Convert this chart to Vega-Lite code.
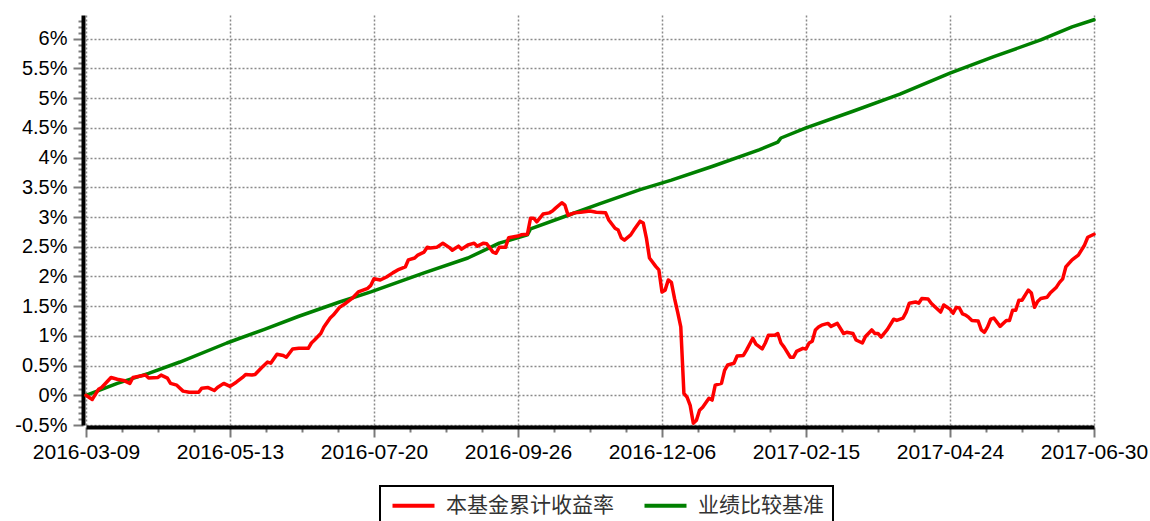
{
  "$schema": "https://vega.github.io/schema/vega-lite/v6.json",
  "width": 1008,
  "height": 410,
  "autosize": {"type": "none"},
  "padding": {"left": 86, "top": 15, "right": 56, "bottom": 96},
  "background": "white",
  "config": {
    "view": {"stroke": null},
    "axis": {"title": null, "labelFont": "Liberation Sans", "labelFontSize": 20, "labelColor": "black", "labelOverlap": false, "labelFlush": false},
    "legend": {"strokeWidth": 2}
  },
  "data": {"values": [
    {"i": 0, "s": "业绩比较基准", "v": 0.0},
    {"i": 10, "s": "业绩比较基准", "v": 0.2},
    {"i": 20, "s": "业绩比较基准", "v": 0.37},
    {"i": 30, "s": "业绩比较基准", "v": 0.56},
    {"i": 45, "s": "业绩比较基准", "v": 0.88},
    {"i": 57, "s": "业绩比较基准", "v": 1.11},
    {"i": 68, "s": "业绩比较基准", "v": 1.33},
    {"i": 81, "s": "业绩比较基准", "v": 1.57},
    {"i": 91, "s": "业绩比较基准", "v": 1.74},
    {"i": 108, "s": "业绩比较基准", "v": 2.06},
    {"i": 122, "s": "业绩比较基准", "v": 2.31},
    {"i": 132, "s": "业绩比较基准", "v": 2.56},
    {"i": 141, "s": "业绩比较基准", "v": 2.7},
    {"i": 142, "s": "业绩比较基准", "v": 2.8},
    {"i": 154, "s": "业绩比较基准", "v": 3.03},
    {"i": 164, "s": "业绩比较基准", "v": 3.22},
    {"i": 177, "s": "业绩比较基准", "v": 3.46},
    {"i": 187, "s": "业绩比较基准", "v": 3.62},
    {"i": 200, "s": "业绩比较基准", "v": 3.85},
    {"i": 215, "s": "业绩比较基准", "v": 4.13},
    {"i": 221, "s": "业绩比较基准", "v": 4.26},
    {"i": 222, "s": "业绩比较基准", "v": 4.33},
    {"i": 230, "s": "业绩比较基准", "v": 4.5},
    {"i": 245, "s": "业绩比较基准", "v": 4.78},
    {"i": 260, "s": "业绩比较基准", "v": 5.07},
    {"i": 276, "s": "业绩比较基准", "v": 5.42},
    {"i": 290, "s": "业绩比较基准", "v": 5.7},
    {"i": 305, "s": "业绩比较基准", "v": 5.98},
    {"i": 315, "s": "业绩比较基准", "v": 6.2},
    {"i": 322, "s": "业绩比较基准", "v": 6.32},
    {"i": 0, "s": "本基金累计收益率", "v": 0.0},
    {"i": 2, "s": "本基金累计收益率", "v": -0.07},
    {"i": 4, "s": "本基金累计收益率", "v": 0.1},
    {"i": 5, "s": "本基金累计收益率", "v": 0.13},
    {"i": 8, "s": "本基金累计收益率", "v": 0.3},
    {"i": 10, "s": "本基金累计收益率", "v": 0.27},
    {"i": 12, "s": "本基金累计收益率", "v": 0.25},
    {"i": 14, "s": "本基金累计收益率", "v": 0.2},
    {"i": 15, "s": "本基金累计收益率", "v": 0.3},
    {"i": 17, "s": "本基金累计收益率", "v": 0.32},
    {"i": 19, "s": "本基金累计收益率", "v": 0.34},
    {"i": 20, "s": "本基金累计收益率", "v": 0.29},
    {"i": 23, "s": "本基金累计收益率", "v": 0.3},
    {"i": 24, "s": "本基金累计收益率", "v": 0.34},
    {"i": 26, "s": "本基金累计收益率", "v": 0.29},
    {"i": 27, "s": "本基金累计收益率", "v": 0.2},
    {"i": 29, "s": "本基金累计收益率", "v": 0.17},
    {"i": 31, "s": "本基金累计收益率", "v": 0.07},
    {"i": 33, "s": "本基金累计收益率", "v": 0.05},
    {"i": 36, "s": "本基金累计收益率", "v": 0.05},
    {"i": 37, "s": "本基金累计收益率", "v": 0.12},
    {"i": 39, "s": "本基金累计收益率", "v": 0.13},
    {"i": 41, "s": "本基金累计收益率", "v": 0.08},
    {"i": 42, "s": "本基金累计收益率", "v": 0.13},
    {"i": 44, "s": "本基金累计收益率", "v": 0.2},
    {"i": 46, "s": "本基金累计收益率", "v": 0.15},
    {"i": 48, "s": "本基金累计收益率", "v": 0.22},
    {"i": 50, "s": "本基金累计收益率", "v": 0.3},
    {"i": 51, "s": "本基金累计收益率", "v": 0.35},
    {"i": 53, "s": "本基金累计收益率", "v": 0.34},
    {"i": 54, "s": "本基金累计收益率", "v": 0.35},
    {"i": 56, "s": "本基金累计收益率", "v": 0.46},
    {"i": 58, "s": "本基金累计收益率", "v": 0.56},
    {"i": 59, "s": "本基金累计收益率", "v": 0.54},
    {"i": 61, "s": "本基金累计收益率", "v": 0.69},
    {"i": 63, "s": "本基金累计收益率", "v": 0.67},
    {"i": 64, "s": "本基金累计收益率", "v": 0.64},
    {"i": 66, "s": "本基金累计收益率", "v": 0.78},
    {"i": 68, "s": "本基金累计收益率", "v": 0.79},
    {"i": 71, "s": "本基金累计收益率", "v": 0.79},
    {"i": 72, "s": "本基金累计收益率", "v": 0.88},
    {"i": 73, "s": "本基金累计收益率", "v": 0.93},
    {"i": 75, "s": "本基金累计收益率", "v": 1.04},
    {"i": 76, "s": "本基金累计收益率", "v": 1.15},
    {"i": 78, "s": "本基金累计收益率", "v": 1.3},
    {"i": 79, "s": "本基金累计收益率", "v": 1.35},
    {"i": 81, "s": "本基金累计收益率", "v": 1.48},
    {"i": 83, "s": "本基金累计收益率", "v": 1.55},
    {"i": 85, "s": "本基金累计收益率", "v": 1.63},
    {"i": 87, "s": "本基金累计收益率", "v": 1.74},
    {"i": 90, "s": "本基金累计收益率", "v": 1.8},
    {"i": 91, "s": "本基金累计收益率", "v": 1.85},
    {"i": 92, "s": "本基金累计收益率", "v": 1.96},
    {"i": 94, "s": "本基金累计收益率", "v": 1.94},
    {"i": 96, "s": "本基金累计收益率", "v": 1.99},
    {"i": 98, "s": "本基金累计收益率", "v": 2.06},
    {"i": 100, "s": "本基金累计收益率", "v": 2.12},
    {"i": 102, "s": "本基金累计收益率", "v": 2.16},
    {"i": 103, "s": "本基金累计收益率", "v": 2.28},
    {"i": 105, "s": "本基金累计收益率", "v": 2.31},
    {"i": 106, "s": "本基金累计收益率", "v": 2.36},
    {"i": 108, "s": "本基金累计收益率", "v": 2.41},
    {"i": 109, "s": "本基金累计收益率", "v": 2.49},
    {"i": 110, "s": "本基金累计收益率", "v": 2.48},
    {"i": 112, "s": "本基金累计收益率", "v": 2.49},
    {"i": 114, "s": "本基金累计收益率", "v": 2.56},
    {"i": 116, "s": "本基金累计收益率", "v": 2.49},
    {"i": 117, "s": "本基金累计收益率", "v": 2.44},
    {"i": 119, "s": "本基金累计收益率", "v": 2.51},
    {"i": 120, "s": "本基金累计收益率", "v": 2.46},
    {"i": 122, "s": "本基金累计收益率", "v": 2.53},
    {"i": 124, "s": "本基金累计收益率", "v": 2.56},
    {"i": 125, "s": "本基金累计收益率", "v": 2.51},
    {"i": 127, "s": "本基金累计收益率", "v": 2.56},
    {"i": 128, "s": "本基金累计收益率", "v": 2.55},
    {"i": 130, "s": "本基金累计收益率", "v": 2.41},
    {"i": 131, "s": "本基金累计收益率", "v": 2.39},
    {"i": 132, "s": "本基金累计收益率", "v": 2.49},
    {"i": 134, "s": "本基金累计收益率", "v": 2.49},
    {"i": 135, "s": "本基金累计收益率", "v": 2.65},
    {"i": 138, "s": "本基金累计收益率", "v": 2.68},
    {"i": 139, "s": "本基金累计收益率", "v": 2.7},
    {"i": 141, "s": "本基金累计收益率", "v": 2.71},
    {"i": 142, "s": "本基金累计收益率", "v": 2.98},
    {"i": 143, "s": "本基金累计收益率", "v": 2.98},
    {"i": 144, "s": "本基金累计收益率", "v": 2.92},
    {"i": 146, "s": "本基金累计收益率", "v": 3.05},
    {"i": 148, "s": "本基金累计收益率", "v": 3.07},
    {"i": 149, "s": "本基金累计收益率", "v": 3.1},
    {"i": 150, "s": "本基金累计收益率", "v": 3.15},
    {"i": 152, "s": "本基金累计收益率", "v": 3.24},
    {"i": 153, "s": "本基金累计收益率", "v": 3.2},
    {"i": 154, "s": "本基金累计收益率", "v": 3.03},
    {"i": 156, "s": "本基金累计收益率", "v": 3.07},
    {"i": 158, "s": "本基金累计收益率", "v": 3.08},
    {"i": 161, "s": "本基金累计收益率", "v": 3.1},
    {"i": 163, "s": "本基金累计收益率", "v": 3.08},
    {"i": 166, "s": "本基金累计收益率", "v": 3.07},
    {"i": 167, "s": "本基金累计收益率", "v": 2.95},
    {"i": 169, "s": "本基金累计收益率", "v": 2.81},
    {"i": 170, "s": "本基金累计收益率", "v": 2.78},
    {"i": 171, "s": "本基金累计收益率", "v": 2.65},
    {"i": 172, "s": "本基金累计收益率", "v": 2.61},
    {"i": 174, "s": "本基金累计收益率", "v": 2.7},
    {"i": 175, "s": "本基金累计收益率", "v": 2.78},
    {"i": 177, "s": "本基金累计收益率", "v": 2.93},
    {"i": 178, "s": "本基金累计收益率", "v": 2.9},
    {"i": 179, "s": "本基金累计收益率", "v": 2.65},
    {"i": 180, "s": "本基金累计收益率", "v": 2.31},
    {"i": 182, "s": "本基金累计收益率", "v": 2.17},
    {"i": 183, "s": "本基金累计收益率", "v": 2.11},
    {"i": 184, "s": "本基金累计收益率", "v": 1.74},
    {"i": 185, "s": "本基金累计收益率", "v": 1.77},
    {"i": 186, "s": "本基金累计收益率", "v": 1.94},
    {"i": 187, "s": "本基金累计收益率", "v": 1.9},
    {"i": 188, "s": "本基金累计收益率", "v": 1.63},
    {"i": 189, "s": "本基金累计收益率", "v": 1.4},
    {"i": 190, "s": "本基金累计收益率", "v": 1.15},
    {"i": 191, "s": "本基金累计收益率", "v": 0.03},
    {"i": 192, "s": "本基金累计收益率", "v": -0.03},
    {"i": 193, "s": "本基金累计收益率", "v": -0.17},
    {"i": 194, "s": "本基金累计收益率", "v": -0.47},
    {"i": 195, "s": "本基金累计收益率", "v": -0.42},
    {"i": 196, "s": "本基金累计收益率", "v": -0.25},
    {"i": 197, "s": "本基金累计收益率", "v": -0.2},
    {"i": 199, "s": "本基金累计收益率", "v": -0.05},
    {"i": 200, "s": "本基金累计收益率", "v": -0.08},
    {"i": 201, "s": "本基金累计收益率", "v": 0.17},
    {"i": 203, "s": "本基金累计收益率", "v": 0.2},
    {"i": 204, "s": "本基金累计收益率", "v": 0.42},
    {"i": 205, "s": "本基金累计收益率", "v": 0.51},
    {"i": 207, "s": "本基金累计收益率", "v": 0.54},
    {"i": 208, "s": "本基金累计收益率", "v": 0.66},
    {"i": 210, "s": "本基金累计收益率", "v": 0.67},
    {"i": 211, "s": "本基金累计收益率", "v": 0.76},
    {"i": 213, "s": "本基金累计收益率", "v": 0.96},
    {"i": 214, "s": "本基金累计收益率", "v": 0.86},
    {"i": 216, "s": "本基金累计收益率", "v": 0.78},
    {"i": 217, "s": "本基金累计收益率", "v": 0.88},
    {"i": 218, "s": "本基金累计收益率", "v": 1.01},
    {"i": 220, "s": "本基金累计收益率", "v": 1.01},
    {"i": 221, "s": "本基金累计收益率", "v": 1.04},
    {"i": 222, "s": "本基金累计收益率", "v": 0.88},
    {"i": 223, "s": "本基金累计收益率", "v": 0.81},
    {"i": 225, "s": "本基金累计收益率", "v": 0.64},
    {"i": 226, "s": "本基金累计收益率", "v": 0.64},
    {"i": 227, "s": "本基金累计收益率", "v": 0.74},
    {"i": 229, "s": "本基金累计收益率", "v": 0.79},
    {"i": 230, "s": "本基金累计收益率", "v": 0.78},
    {"i": 231, "s": "本基金累计收益率", "v": 0.88},
    {"i": 232, "s": "本基金累计收益率", "v": 0.91},
    {"i": 233, "s": "本基金累计收益率", "v": 1.1},
    {"i": 234, "s": "本基金累计收益率", "v": 1.15},
    {"i": 235, "s": "本基金累计收益率", "v": 1.18},
    {"i": 237, "s": "本基金累计收益率", "v": 1.21},
    {"i": 238, "s": "本基金累计收益率", "v": 1.16},
    {"i": 240, "s": "本基金累计收益率", "v": 1.21},
    {"i": 242, "s": "本基金累计收益率", "v": 1.04},
    {"i": 243, "s": "本基金累计收益率", "v": 1.06},
    {"i": 245, "s": "本基金累计收益率", "v": 1.04},
    {"i": 246, "s": "本基金累计收益率", "v": 0.93},
    {"i": 248, "s": "本基金累计收益率", "v": 0.88},
    {"i": 249, "s": "本基金累计收益率", "v": 0.99},
    {"i": 251, "s": "本基金累计收益率", "v": 1.1},
    {"i": 252, "s": "本基金累计收益率", "v": 1.04},
    {"i": 253, "s": "本基金累计收益率", "v": 1.04},
    {"i": 254, "s": "本基金累计收益率", "v": 0.98},
    {"i": 256, "s": "本基金累计收益率", "v": 1.11},
    {"i": 258, "s": "本基金累计收益率", "v": 1.28},
    {"i": 259, "s": "本基金累计收益率", "v": 1.26},
    {"i": 261, "s": "本基金累计收益率", "v": 1.3},
    {"i": 262, "s": "本基金累计收益率", "v": 1.4},
    {"i": 263, "s": "本基金累计收益率", "v": 1.55},
    {"i": 265, "s": "本基金累计收益率", "v": 1.57},
    {"i": 266, "s": "本基金累计收益率", "v": 1.55},
    {"i": 267, "s": "本基金累计收益率", "v": 1.63},
    {"i": 269, "s": "本基金累计收益率", "v": 1.62},
    {"i": 270, "s": "本基金累计收益率", "v": 1.55},
    {"i": 271, "s": "本基金累计收益率", "v": 1.5},
    {"i": 273, "s": "本基金累计收益率", "v": 1.4},
    {"i": 274, "s": "本基金累计收益率", "v": 1.52},
    {"i": 276, "s": "本基金累计收益率", "v": 1.45},
    {"i": 277, "s": "本基金累计收益率", "v": 1.38},
    {"i": 278, "s": "本基金累计收益率", "v": 1.48},
    {"i": 279, "s": "本基金累计收益率", "v": 1.47},
    {"i": 280, "s": "本基金累计收益率", "v": 1.37},
    {"i": 281, "s": "本基金累计收益率", "v": 1.35},
    {"i": 282, "s": "本基金累计收益率", "v": 1.31},
    {"i": 283, "s": "本基金累计收益率", "v": 1.26},
    {"i": 285, "s": "本基金累计收益率", "v": 1.25},
    {"i": 286, "s": "本基金累计收益率", "v": 1.1},
    {"i": 287, "s": "本基金累计收益率", "v": 1.06},
    {"i": 288, "s": "本基金累计收益率", "v": 1.15},
    {"i": 289, "s": "本基金累计收益率", "v": 1.28},
    {"i": 290, "s": "本基金累计收益率", "v": 1.3},
    {"i": 292, "s": "本基金累计收益率", "v": 1.16},
    {"i": 294, "s": "本基金累计收益率", "v": 1.26},
    {"i": 295, "s": "本基金累计收益率", "v": 1.26},
    {"i": 296, "s": "本基金累计收益率", "v": 1.43},
    {"i": 297, "s": "本基金累计收益率", "v": 1.43},
    {"i": 298, "s": "本基金累计收益率", "v": 1.6},
    {"i": 299, "s": "本基金累计收益率", "v": 1.6},
    {"i": 301, "s": "本基金累计收益率", "v": 1.77},
    {"i": 302, "s": "本基金累计收益率", "v": 1.72},
    {"i": 303, "s": "本基金累计收益率", "v": 1.48},
    {"i": 304, "s": "本基金累计收益率", "v": 1.58},
    {"i": 305, "s": "本基金累计收益率", "v": 1.63},
    {"i": 307, "s": "本基金累计收益率", "v": 1.65},
    {"i": 308, "s": "本基金累计收益率", "v": 1.72},
    {"i": 310, "s": "本基金累计收益率", "v": 1.82},
    {"i": 311, "s": "本基金累计收益率", "v": 1.9},
    {"i": 312, "s": "本基金累计收益率", "v": 1.96},
    {"i": 313, "s": "本基金累计收益率", "v": 2.16},
    {"i": 315, "s": "本基金累计收益率", "v": 2.28},
    {"i": 317, "s": "本基金累计收益率", "v": 2.36},
    {"i": 319, "s": "本基金累计收益率", "v": 2.53},
    {"i": 320, "s": "本基金累计收益率", "v": 2.66},
    {"i": 322, "s": "本基金累计收益率", "v": 2.71}
  ]},
  "layer": [
    {
      "mark": {"type": "point", "opacity": 0},
      "encoding": {
        "x": {"field": "i", "type": "quantitative", "scale": {"domain": [0, 322], "nice": false, "zero": false},
          "axis": {"orient": "bottom", "offset": 2, "values": [11.5, 23, 34.5, 57.5, 69, 80.5, 103.5, 115, 126.5, 149.5, 161, 172.5, 195.5, 207, 218.5, 241.5, 253, 264.5, 287.5, 299, 310.5], "labels": false, "grid": false, "domain": false, "ticks": true, "tickSize": 5, "tickWidth": 2, "tickColor": "#7a7a7a"}},
        "y": {"field": "v", "type": "quantitative", "scale": {"domain": [-0.5, 6.4], "nice": false, "zero": false},
          "axis": {"orient": "left", "offset": 3, "values": [-0.4, -0.3, -0.2, -0.1, 0.1, 0.2, 0.3, 0.4, 0.6, 0.7, 0.8, 0.9, 1.1, 1.2, 1.3, 1.4, 1.6, 1.7, 1.8, 1.9, 2.1, 2.2, 2.3, 2.4, 2.6, 2.7, 2.8, 2.9, 3.1, 3.2, 3.3, 3.4, 3.6, 3.7, 3.8, 3.9, 4.1, 4.2, 4.3, 4.4, 4.6, 4.7, 4.8, 4.9, 5.1, 5.2, 5.3, 5.4, 5.6, 5.7, 5.8, 5.9, 6.1, 6.2, 6.3], "labels": false, "grid": false, "domain": false, "ticks": true, "tickSize": 5, "tickWidth": 2, "tickColor": "#7a7a7a"}}
      }
    },
    {
      "mark": {"type": "line", "strokeWidth": 3.5, "strokeJoin": "round", "strokeCap": "round"},
      "encoding": {
        "x": {"field": "i", "type": "quantitative", "scale": {"domain": [0, 322], "nice": false, "zero": false},
          "axis": {"orient": "bottom", "offset": 2, "values": [0, 46, 92, 138, 184, 230, 276, 322],
            "labelExpr": "['2016-03-09','2016-05-13','2016-07-20','2016-09-26','2016-12-06','2017-02-15','2017-04-24','2017-06-30'][round(datum.value/46)]",
            "labelFontSize": 21,
            "grid": true, "gridColor": "#8a8a8a", "gridDash": [2, 2], "gridWidth": 1.5,
            "domain": true, "domainColor": "black", "domainWidth": 4,
            "ticks": true, "tickSize": 10, "tickWidth": 2, "tickColor": "#7a7a7a", "labelPadding": 4}},
        "y": {"field": "v", "type": "quantitative", "scale": {"domain": [-0.5, 6.4], "nice": false, "zero": false},
          "axis": {"orient": "left", "offset": 3, "values": [-0.5, 0, 0.5, 1, 1.5, 2, 2.5, 3, 3.5, 4, 4.5, 5, 5.5, 6],
            "labelExpr": "datum.value + '%'",
            "grid": true, "gridColor": "#8a8a8a", "gridDash": [2, 2], "gridWidth": 1.5,
            "domain": true, "domainColor": "black", "domainWidth": 4,
            "ticks": true, "tickSize": 10, "tickWidth": 2, "tickColor": "#7a7a7a", "labelPadding": 6}},
        "color": {"field": "s", "type": "nominal",
          "scale": {"domain": ["本基金累计收益率", "业绩比较基准"], "range": ["#ff0000", "#008000"]},
          "legend": {"title": null, "orient": "none", "legendX": 294, "legendY": 471, "direction": "horizontal",
            "columns": 2, "gridAlign": "all",
            "strokeColor": "black", "fillColor": "white", "padding": 9,
            "symbolType": "M-3,0L3,0", "symbolSize": 196, "symbolStrokeWidth": 4, "symbolOffset": 14,
            "labelFont": "Noto Sans CJK SC", "labelFontSize": 21, "labelColor": "#333333", "labelOffset": 22,
            "columnPadding": 22, "labelLimit": 400}}
      }
    }
  ],
  "resolve": {"axis": {"x": "independent", "y": "independent"}}
}
